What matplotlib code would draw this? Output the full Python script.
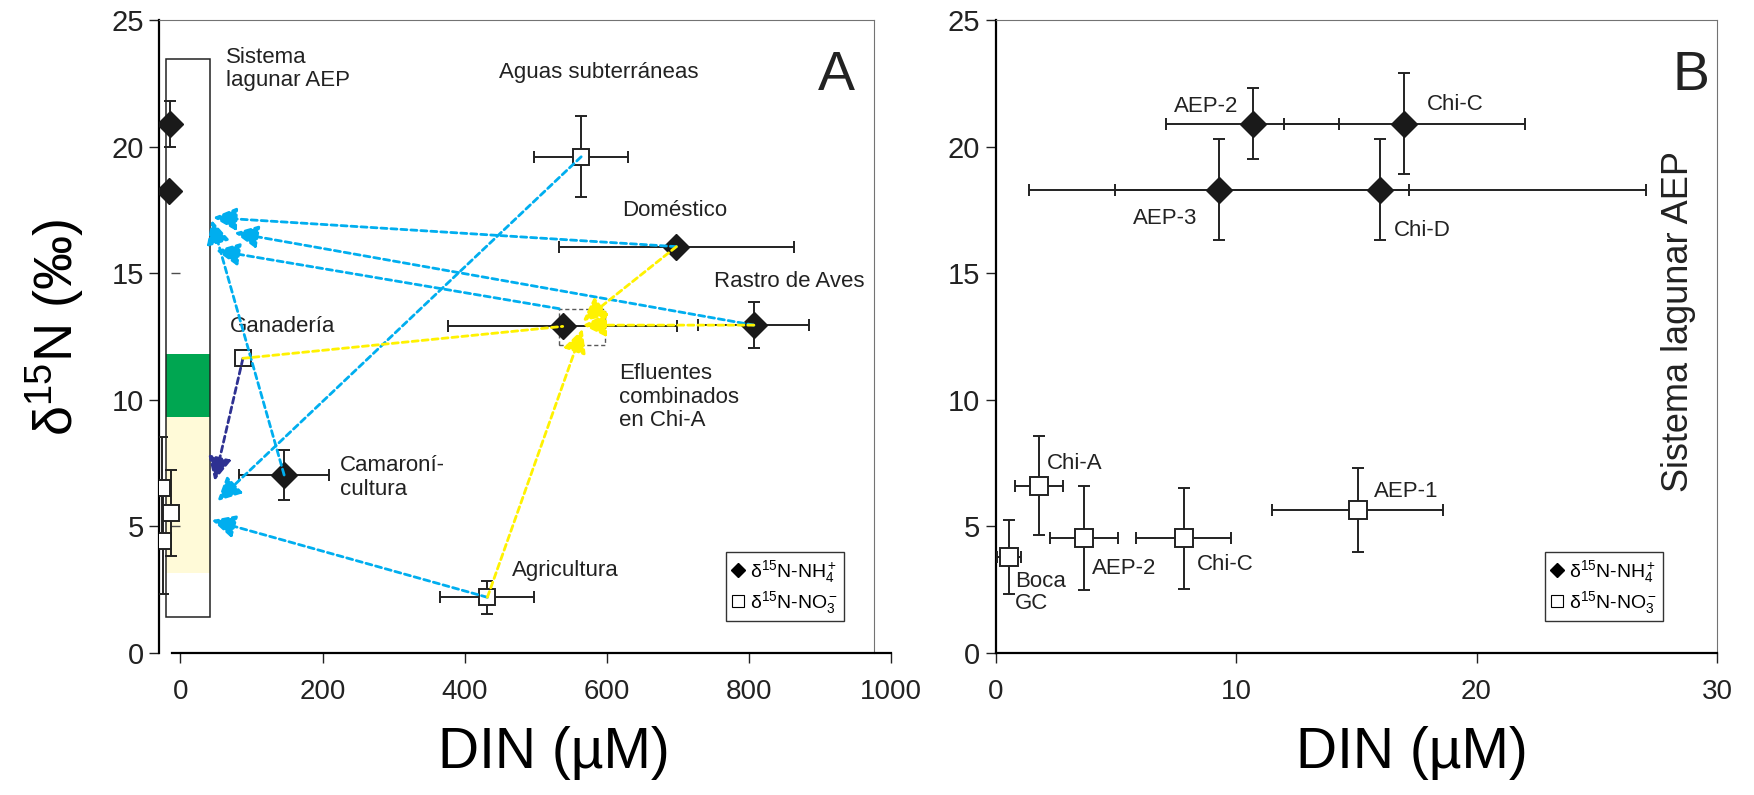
import numpy as np
import matplotlib
matplotlib.use('Agg')
import matplotlib.pyplot as plt
from matplotlib.patches import Rectangle

plt.rcParams['font.family'] = ['Liberation Sans', 'DejaVu Sans']
plt.rcParams['mathtext.fontset'] = 'custom'
plt.rcParams['mathtext.rm'] = 'Liberation Sans'
plt.rcParams['mathtext.it'] = 'Liberation Sans:italic'

# ---------------- panel A data ----------------
# lagoon system (AEP) points near DIN ~ 0
lag_nh4_x = [-14, -16]
lag_nh4_y = [20.9, 18.26]
lag_nh4_yerr = [0.9, 0.0]
lag_no3_x = [-26, -13, -24]
lag_no3_y = [6.53, 5.53, 4.43]
lag_no3_yerr = [2.0, 1.7, 2.1]

# sources
src_no3_names = ['Aguas subterráneas', 'Ganadería', 'Agricultura']
src_no3_x = [564, 88, 432]
src_no3_y = [19.6, 11.64, 2.2]
src_no3_xerr = [66, 0, 66]
src_no3_yerr = [1.6, 0, 0.65]

src_nh4_names = ['Doméstico', 'Rastro de Aves', 'Efluentes', 'Camaronicultura']
src_nh4_x = [698, 807, 538, 146]
src_nh4_y = [16.05, 12.95, 12.9, 7.03]
src_nh4_xerr = [165, 78, 161, 63]
src_nh4_yerr = [0, 0.9, 0, 1.0]

# lagoon box and isotope ranges
lag_box_x = (-20, 42)
lag_box_y = (1.43, 23.45)
green_band = (9.33, 11.8)
cream_band = (3.16, 9.33)
eff_box_x = (533, 597)
eff_box_y = (12.15, 13.6)

# arrows: (start, end, colour, head)
BLUE = '#00AEEF'
NAVY = '#2E3192'
YEL = '#FFF200'
arrows = [
    ((564, 19.6), (52, 6.0), BLUE, True),
    ((698, 16.05), (46, 17.2), BLUE, True),
    ((807, 12.95), (76, 16.6), BLUE, True),
    ((533, 13.6), (50, 15.9), BLUE, True),
    ((146, 7.03), (44, 17.1), BLUE, True),
    ((432, 2.2), (44, 5.25), BLUE, True),
    ((88, 11.64), (48, 6.8), NAVY, True),
    ((88, 11.64), (538, 12.9), YEL, False),
    ((698, 16.05), (566, 13.1), YEL, True),
    ((807, 12.95), (566, 12.95), YEL, True),
    ((432, 2.2), (566, 12.8), YEL, True),
]

labels_a = [
    ('Sistema\nlagunar AEP', 64, 23.06),
    ('Aguas subterráneas', 449, 22.92),
    ('Doméstico', 622, 17.46),
    ('Rastro de Aves', 751, 14.69),
    ('Ganadería', 70, 12.91),
    ('Camaroní-\ncultura', 225, 6.93),
    ('Efluentes\ncombinados\nen Chi-A', 617, 10.11),
    ('Agricultura', 467, 3.26),
]

# ---------------- panel B data ----------------
b_nh4_names = ['AEP-2', 'Chi-C', 'AEP-3', 'Chi-D']
b_nh4_x = [10.7, 17.0, 9.3, 16.0]
b_nh4_y = [20.9, 20.9, 18.3, 18.3]
b_nh4_xerr = [3.6, 5.0, 7.9, 11.05]
b_nh4_yerr = [1.4, 2.0, 2.0, 2.0]

b_no3_names = ['Chi-A', 'Boca\nGC', 'AEP-2', 'Chi-C', 'AEP-1']
b_no3_x = [1.8, 0.56, 3.68, 7.83, 15.06]
b_no3_y = [6.61, 3.78, 4.53, 4.53, 5.65]
b_no3_xerr = [1.0, 0.48, 1.41, 1.97, 3.55]
b_no3_yerr = [1.96, 1.46, 2.05, 1.99, 1.65]

labels_b = [
    ('AEP-2', 7.42, 21.6), ('Chi-C', 17.94, 21.65),
    ('AEP-3', 5.71, 17.15), ('Chi-D', 16.57, 16.7),
    ('Chi-A', 2.12, 7.49), ('Boca\nGC', 0.81, 2.39),
    ('AEP-2', 4.0, 3.32), ('Chi-C', 8.39, 3.48), ('AEP-1', 15.73, 6.37),
]

yticks = [0, 5, 10, 15, 20, 25]

fig = plt.figure(figsize=(17.54, 7.95), dpi=100)
axA = fig.add_axes([0.0907, 0.1786, 0.4173, 0.7962])
axB = fig.add_axes([0.5676, 0.1786, 0.4113, 0.7962])

ebkw = dict(fmt='none', ecolor='#222222', elinewidth=1.4, capsize=4.5, capthick=1.4, zorder=4)
lbl_nh4 = r'$\mathrm{\delta}^{15}$N-NH$_4^+$'
lbl_no3 = r'$\mathrm{\delta}^{15}$N-NO$_3^-$'


def style_axes(ax, xlim, xticks, right_at, bottom_from):
    ax.set_xlim(*xlim)
    ax.set_ylim(0, 25)
    ax.set_xticks(xticks)
    ax.set_yticks(yticks)
    ax.spines['left'].set_linewidth(1.6)
    ax.spines['bottom'].set_linewidth(1.6)
    ax.spines['bottom'].set_bounds(bottom_from, xlim[1])
    ax.spines['top'].set_color('0.45')
    ax.spines['top'].set_bounds(xlim[0], right_at)
    ax.spines['right'].set_color('0.45')
    ax.spines['right'].set_position(('data', right_at))
    ax.tick_params(direction='out', length=7, width=1, colors='#222222')
    ax.tick_params(axis='x', pad=12, labelsize=20)
    ax.tick_params(axis='y', pad=4, labelsize=21)
    ax.set_xlabel('DIN (µM)', fontsize=41)
    ax.xaxis.set_label_coords(0.54, -0.115)


def add_legend(ax, loc):
    ax.plot([], [], 'D', color='k', ms=7.5, label=lbl_nh4)
    ax.plot([], [], 's', mfc='white', mec='k', mew=0.8, ms=8.5, label=lbl_no3)
    leg = ax.legend(loc='lower left', bbox_to_anchor=loc, frameon=True, fancybox=False,
                    handlelength=0.6, handletextpad=0.3, borderpad=0.3, labelspacing=0.2,
                    borderaxespad=0, prop={'size': 14})
    leg.get_frame().set_edgecolor('k')
    leg.get_frame().set_linewidth(1.0)


# ---------------- panel A ----------------
ax = axA
style_axes(ax, (-30, 1000), [0, 200, 400, 600, 800, 1000], 976, -12.5)

bw = lag_box_x[1] - lag_box_x[0]
ax.add_patch(Rectangle((lag_box_x[0], cream_band[0]), bw, cream_band[1] - cream_band[0],
                       fc='#FFFAD8', ec='none', zorder=1))
ax.add_patch(Rectangle((lag_box_x[0], green_band[0]), bw, green_band[1] - green_band[0],
                       fc='#00A651', ec='none', zorder=1))
ax.add_patch(Rectangle((lag_box_x[0], lag_box_y[0]), bw, lag_box_y[1] - lag_box_y[0],
                       fc='none', ec='#222222', lw=1.1, zorder=2))
ax.hlines([5, 15], -13, 0, colors='0.3', lw=1.0, zorder=1.5)
ax.add_patch(Rectangle((eff_box_x[0], eff_box_y[0]), eff_box_x[1] - eff_box_x[0],
                       eff_box_y[1] - eff_box_y[0], fc='none', ec='0.35', lw=1.0,
                       ls=(0, (3, 2)), zorder=3))

ax.errorbar(lag_nh4_x, lag_nh4_y, yerr=lag_nh4_yerr, **ebkw)
ax.errorbar(lag_no3_x, lag_no3_y, yerr=lag_no3_yerr, **ebkw)
ax.errorbar(src_no3_x, src_no3_y, xerr=src_no3_xerr, yerr=src_no3_yerr, **ebkw)
ax.errorbar(src_nh4_x, src_nh4_y, xerr=src_nh4_xerr, yerr=src_nh4_yerr, **ebkw)

ax.plot(lag_nh4_x, lag_nh4_y, 'D', color='#1a1a1a', ms=13, zorder=5)
ax.plot(src_nh4_x, src_nh4_y, 'D', color='#1a1a1a', ms=13, zorder=5)
ax.plot(lag_no3_x, lag_no3_y, 's', mfc='white', mec='#222222', mew=1.4, ms=11, zorder=5)
ax.plot(src_no3_x, src_no3_y, 's', mfc='white', mec='#222222', mew=1.4, ms=11, zorder=5)

for (p0, p1, col, head) in arrows:
    style = '-|>,head_length=0.65,head_width=0.32' if head else '-'
    ax.annotate('', xy=p1, xytext=p0,
                arrowprops=dict(arrowstyle=style, color=col, lw=2.0, ls=(0, (2.2, 1.4)),
                                shrinkA=0, shrinkB=0, mutation_scale=22),
                zorder=6)

for txt, x, y in labels_a:
    ax.text(x, y, txt, fontsize=16, ha='left', va='center', linespacing=1.15, color='#222222')
ax.text(923, 22.8, 'A', fontsize=40, ha='center', va='center', color='#222222')
ax.set_ylabel(r'$\mathrm{\delta}^{15}$N (‰)', fontsize=39)
ax.yaxis.set_label_coords(-0.098, 0.515)
add_legend(ax, (0.775, 0.05))

# ---------------- panel B ----------------
ax = axB
style_axes(ax, (0, 30), [0, 10, 20, 30], 30, 0)
ax.errorbar(b_nh4_x, b_nh4_y, xerr=b_nh4_xerr, yerr=b_nh4_yerr, **ebkw)
ax.errorbar(b_no3_x, b_no3_y, xerr=b_no3_xerr, yerr=b_no3_yerr, **ebkw)
ax.plot(b_nh4_x, b_nh4_y, 'D', color='#1a1a1a', ms=13, zorder=5)
ax.plot(b_no3_x, b_no3_y, 's', mfc='white', mec='#222222', mew=1.4, ms=13, zorder=5)
for txt, x, y in labels_b:
    ax.text(x, y, txt, fontsize=16, ha='left', va='center', linespacing=1.1, color='#222222')
ax.text(28.9, 22.8, 'B', fontsize=40, ha='center', va='center', color='#222222')
ax.text(28.4, 13.1, 'Sistema lagunar AEP', rotation=90, fontsize=26, ha='center',
        va='center', color='#222222')
ax.xaxis.set_label_coords(0.577, -0.115)
add_legend(ax, (0.762, 0.05))

fig.savefig('out.png', dpi=100)
